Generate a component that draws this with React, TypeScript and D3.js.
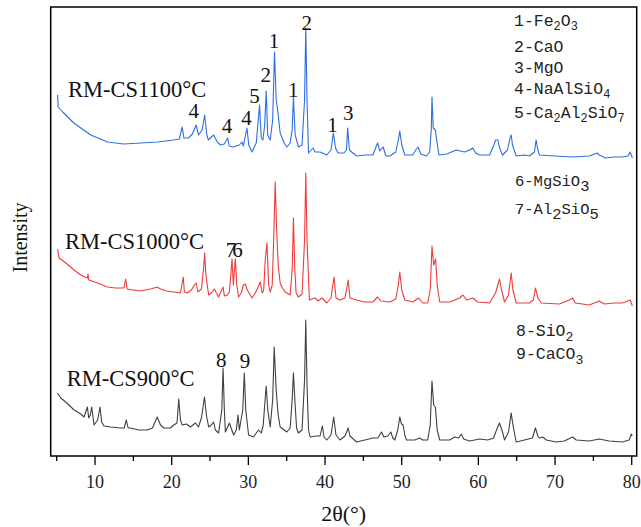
import React from 'react';
import * as d3 from 'd3';

// ---------- data ----------
const xTicks = [10, 20, 30, 40, 50, 60, 70, 80];
const xMinorTicks = [5, 15, 25, 35, 45, 55, 65, 75];

// [2θ, intensity (a.u., stacked as plotted)]
const rm1100: [number, number][] = [
  [5.11, 360], [5.2, 348], [5.8, 343], [7.23, 332], [9.44, 320], [11.65, 313], [13.73, 311],
  [15.94, 312], [18.15, 313], [20.23, 315], [21.0, 316], [21.37, 328], [21.6, 317], [22.18, 317],
  [22.7, 321], [23.19, 330], [23.5, 320], [23.97, 325], [24.3, 340], [24.59, 320], [24.78, 315],
  [25.47, 320], [25.95, 313], [26.35, 310], [26.87, 311], [27.3, 317], [27.5, 309], [28.04, 308],
  [28.82, 310], [29.17, 313], [29.34, 309], [29.82, 327], [30.05, 310], [30.47, 303], [31.03, 312],
  [31.46, 350], [31.68, 317], [31.9, 315], [32.13, 330], [32.33, 364], [32.52, 320], [32.85, 315],
  [33.17, 335], [33.41, 403], [33.63, 355], [33.82, 345], [34.15, 322], [34.67, 312], [35.02, 308],
  [35.45, 312], [35.71, 325], [35.88, 358], [36.1, 320], [36.53, 308], [37.0, 310], [37.33, 355],
  [37.49, 427], [37.65, 355], [37.85, 302], [38.44, 307], [38.7, 303], [39.35, 303], [40.22, 300],
  [40.78, 305], [41.08, 322], [41.37, 307], [41.69, 302], [42.47, 302], [42.8, 305], [42.95, 327],
  [43.18, 305], [43.47, 303], [44.12, 299], [45.2, 300], [46.24, 300], [46.85, 312], [47.15, 304],
  [47.58, 308], [47.93, 299], [48.45, 299], [49.23, 303], [49.56, 315], [49.75, 324], [50.01, 310],
  [50.4, 300], [51.44, 300], [51.83, 305], [52.13, 308], [52.48, 301], [53.22, 299], [53.65, 303],
  [53.85, 325], [53.95, 358], [54.11, 327], [54.39, 325], [54.56, 315], [54.86, 300], [55.86, 301],
  [57.13, 305], [58.2, 303], [58.86, 305], [59.28, 307], [59.64, 302], [60.16, 300], [61.46, 300],
  [61.98, 309], [62.24, 315], [62.54, 315], [62.76, 307], [63.15, 300], [63.8, 305], [64.12, 317],
  [64.28, 320], [64.45, 310], [64.93, 299], [66.0, 300], [66.66, 299], [67.31, 303], [67.53, 315],
  [67.76, 305], [67.96, 300], [69.91, 299], [72.29, 298], [74.46, 299], [75.5, 302], [75.76, 300],
  [76.63, 297], [77.7, 298], [78.75, 298], [79.53, 299], [79.79, 303], [80.09, 297],
];

const rm1000: [number, number][] = [
  [5.11, 206], [5.32, 197], [6.19, 192], [7.27, 185], [8.14, 180], [9.01, 177], [9.09, 181],
  [9.18, 175], [10.35, 172], [11.61, 168], [12.69, 167], [13.77, 167], [13.99, 176], [14.19, 166],
  [15.03, 165], [15.94, 164], [17.24, 166], [18.11, 168], [18.54, 166], [19.32, 164], [20.27, 163],
  [21.14, 162], [21.5, 178], [21.66, 163], [22.02, 162], [22.57, 165], [22.96, 170], [23.19, 172],
  [23.42, 163], [23.88, 166], [24.14, 185], [24.3, 202], [24.46, 180], [24.82, 160], [25.18, 162],
  [25.57, 166], [25.83, 162], [26.12, 158], [26.7, 168], [26.87, 159], [27.26, 160], [27.52, 163],
  [27.71, 180], [27.87, 196], [28.04, 170], [28.3, 196], [28.49, 170], [28.73, 158], [29.08, 162],
  [29.34, 170], [29.6, 171], [29.86, 165], [30.47, 157], [30.9, 162], [31.22, 167], [31.55, 173],
  [31.81, 162], [32.0, 165], [32.2, 195], [32.42, 212], [32.65, 170], [32.85, 163], [33.11, 170],
  [33.3, 215], [33.5, 273], [33.69, 225], [33.89, 190], [34.15, 172], [34.37, 168], [34.8, 163],
  [35.45, 160], [35.71, 185], [35.88, 237], [36.06, 185], [36.23, 162], [36.53, 158], [37.0, 161],
  [37.33, 215], [37.49, 282], [37.65, 215], [37.96, 155], [38.7, 157], [39.09, 154], [39.61, 157],
  [40.22, 152], [40.78, 157], [41.17, 178], [41.43, 157], [41.95, 155], [42.6, 157], [43.03, 175],
  [43.25, 157], [44.12, 155], [45.2, 153], [46.24, 153], [46.85, 158], [47.28, 154], [48.45, 153],
  [49.23, 156], [49.56, 170], [49.75, 183], [50.01, 165], [50.4, 155], [51.44, 153], [52.22, 157],
  [52.74, 152], [53.39, 152], [53.72, 165], [53.95, 209], [54.17, 190], [54.43, 196], [54.63, 170],
  [54.96, 153], [56.26, 153], [57.56, 157], [57.98, 160], [58.47, 155], [59.28, 157], [59.9, 153],
  [61.46, 152], [62.24, 162], [62.76, 176], [63.02, 165], [63.41, 153], [63.93, 160], [64.28, 182],
  [64.51, 165], [64.93, 152], [66.66, 152], [67.18, 155], [67.44, 167], [67.76, 157], [68.22, 152],
  [70.56, 151], [71.86, 155], [72.29, 157], [72.64, 152], [74.46, 150], [75.76, 154], [76.41, 151],
  [77.7, 152], [78.79, 152], [79.79, 155], [80.09, 149],
];

const rm900: [number, number][] = [
  [5.11, 62], [5.54, 57], [6.32, 52], [7.27, 45], [8.14, 41], [8.57, 38], [8.79, 43], [9.01, 48],
  [9.18, 37], [9.38, 40], [9.57, 48], [9.87, 30], [10.35, 35], [10.65, 48], [10.87, 33], [11.17, 29],
  [12.04, 28], [13.34, 27], [13.8, 27], [14.08, 35], [14.32, 27], [14.64, 27], [15.68, 25],
  [16.81, 25], [17.5, 27], [18.11, 38], [18.54, 30], [18.97, 27], [19.84, 27], [20.27, 30],
  [20.69, 32], [20.92, 56], [21.14, 35], [21.37, 30], [21.92, 31], [22.44, 28], [23.1, 32],
  [23.49, 28], [23.88, 37], [24.28, 58], [24.53, 40], [24.82, 28], [25.18, 30], [25.47, 33],
  [25.7, 25], [26.12, 22], [26.54, 45], [26.7, 87], [26.87, 45], [27.0, 23], [27.52, 32], [28.08, 20],
  [28.43, 25], [28.65, 40], [28.82, 25], [29.27, 45], [29.47, 82], [29.66, 45], [30.03, 20],
  [30.68, 18], [31.03, 22], [31.33, 25], [31.68, 22], [31.94, 30], [32.13, 50], [32.33, 69],
  [32.53, 45], [32.85, 28], [33.17, 55], [33.37, 108], [33.63, 65], [33.89, 40], [34.15, 28],
  [35.02, 23], [35.45, 27], [35.71, 55], [35.88, 82], [36.1, 50], [36.29, 27], [36.53, 22], [37.0, 25],
  [37.33, 75], [37.49, 135], [37.65, 70], [37.85, 25], [38.05, 18], [38.83, 19], [39.35, 19],
  [39.65, 29], [39.87, 18], [40.22, 15], [40.78, 20], [41.13, 38], [41.43, 20], [41.95, 15],
  [42.6, 19], [43.03, 27], [43.25, 19], [44.12, 13], [45.2, 15], [46.24, 17], [46.89, 17],
  [47.37, 23], [47.67, 18], [48.19, 19], [48.58, 23], [48.84, 17], [49.1, 15], [49.49, 25],
  [49.75, 38], [49.97, 31], [50.18, 30], [50.4, 20], [50.62, 15], [51.7, 15], [52.35, 17],
  [52.74, 15], [53.39, 15], [53.72, 30], [53.95, 74], [54.17, 50], [54.39, 48], [54.63, 25],
  [54.96, 15], [56.26, 15], [56.91, 18], [57.43, 17], [57.78, 21], [58.08, 16], [58.86, 14],
  [60.16, 16], [61.2, 15], [61.98, 17], [62.37, 25], [62.76, 32], [63.15, 23], [63.41, 15],
  [63.93, 23], [64.28, 42], [64.51, 30], [64.93, 13], [66.0, 15], [67.05, 17], [67.44, 27],
  [67.76, 19], [67.96, 17], [68.39, 18], [68.87, 15], [70.13, 13], [71.2, 14], [72.29, 18],
  [72.77, 15], [74.46, 14], [75.76, 16], [77.06, 14], [78.79, 13], [79.66, 15], [79.96, 21],
  [80.05, 19],
];

const seriesColors = ['#2D6FE0', '#EE3B3B', '#404040'];

// peak markers: [label, 2θ (centre), intensity (baseline)]
const peaks1100: [string, number, number][] = [
  ['4', 22.87, 337], ['4', 27.22, 322], ['4', 29.76, 330], ['5', 30.8, 352], ['2', 32.28, 373],
  ['1', 33.35, 407], ['1', 35.86, 358], ['2', 37.61, 425], ['1', 40.98, 323], ['3', 43.04, 335],
];
const peaks1000: [string, number, number][] = [['7', 27.74, 198], ['6', 28.59, 198]];
const peaks900: [string, number, number][] = [['8', 26.47, 88], ['9', 29.56, 87]];

// sample names: [text, 2θ (left), intensity (baseline)]
const sampleNames: [string, number, number][] = [
  ['RM-CS1100°C', 6.48, 358],
  ['RM-CS1000°C', 6.09, 206],
  ['RM-CS900°C', 6.31, 69],
];

// phase legend (“_” marks a subscript digit)
const legendGroupA = ['1-Fe_2O_3', '2-CaO', '3-MgO', '4-NaAlSiO_4', '5-Ca_2Al_2SiO_7'];
const legendGroupB = ['6-MgSiO_3', '7-Al_2SiO_5'];
const legendGroupC = ['8-SiO_2', '9-CaCO_3'];

// ---------- layout ----------
const W = 641;
const H = 527;
const left = 50.7;
const right = 636.7;
const top = 7;
const bottom = 456;

function parseFormula(s: string) {
  const parts: { t: string; sub: boolean }[] = [];
  let i = 0;
  while (i < s.length) {
    if (s[i] === '_') {
      parts.push({ t: s[i + 1], sub: true });
      i += 2;
    } else {
      let j = i;
      while (j < s.length && s[j] !== '_') j++;
      parts.push({ t: s.slice(i, j), sub: false });
      i = j;
    }
  }
  return parts;
}

function Formula({ text, x, y, size, subScale, subDy }: { text: string; x: number; y: number; size: number; subScale: number; subDy: number }) {
  const parts = parseFormula(text);
  let prevSub = false;
  return (
    <text x={x} y={y} fontFamily="'Liberation Mono', 'DejaVu Sans Mono', monospace" fontSize={size} fill="#222">
      {parts.map((p, k) => {
        let dy = 0;
        if (p.sub && !prevSub) dy = subDy;
        if (!p.sub && prevSub) dy = -subDy;
        prevSub = p.sub;
        return (
          <tspan key={k} dy={dy} fontSize={p.sub ? size * subScale : size}>
            {p.t}
          </tspan>
        );
      })}
    </text>
  );
}

export default function App() {
  const x = d3.scaleLinear().domain([4.22, 80.65]).range([left, right]);
  const y = d3.scaleLinear().domain([0, 448]).range([455, 7]);
  const line = d3
    .line<[number, number]>()
    .x((d) => x(d[0]))
    .y((d) => y(d[1]))
    .curve(d3.curveLinear);

  const series = [rm1100, rm1000, rm900];
  const peakSets = [peaks1100, peaks1000, peaks900];

  return (
    <svg width={W} height={H} style={{ position: 'absolute', left: 0, top: 0, background: '#fff' }}>
      <rect x={0} y={0} width={W} height={H} fill="#fff" />
      {series.map((s, i) => (
        <path key={i} d={line(s) || ''} fill="none" stroke={seriesColors[i]} strokeWidth={1.1} strokeLinejoin="round" />
      ))}

      {/* frame */}
      <rect x={left} y={top} width={right - left} height={bottom - top} fill="none" stroke="#000" strokeWidth={1.5} />

      {/* x ticks */}
      {xTicks.map((t) => (
        <g key={'M' + t}>
          <line x1={x(t)} x2={x(t)} y1={bottom} y2={bottom + 9} stroke="#000" strokeWidth={1.3} />
          <text x={x(t)} y={488} textAnchor="middle" fontFamily="'Liberation Serif', 'Times New Roman', serif" fontSize={18} fill="#222">
            {t}
          </text>
        </g>
      ))}
      {xMinorTicks.map((t) => (
        <line key={'m' + t} x1={x(t)} x2={x(t)} y1={bottom} y2={bottom + 5} stroke="#000" strokeWidth={1.3} />
      ))}

      {/* axis titles */}
      <text x={(left + right) / 2} y={521} textAnchor="middle" fontFamily="'Liberation Serif', 'Times New Roman', serif" fontSize={22} fill="#111">
        2θ(°)
      </text>
      <text
        transform={`translate(27, ${(top + bottom) / 2 + 6}) rotate(-90)`}
        textAnchor="middle"
        fontFamily="'Liberation Serif', 'Times New Roman', serif"
        fontSize={20}
        fill="#111"
      >
        Intensity
      </text>

      {/* sample names */}
      {sampleNames.map(([t, a, b]) => (
        <text key={t} x={x(a)} y={y(b)} fontFamily="'Liberation Serif', 'Times New Roman', serif" fontSize={22.5} fill="#111">
          {t}
        </text>
      ))}

      {/* peak numbers */}
      {peakSets.map((set, i) =>
        set.map(([t, a, b], k) => (
          <text key={i + '-' + k} x={x(a)} y={y(b)} textAnchor="middle" fontFamily="'Liberation Serif', 'Times New Roman', serif" fontSize={21} fill="#111">
            {t}
          </text>
        ))
      )}

      {/* phase legend */}
      {legendGroupA.map((s, i) => (
        <Formula key={s} text={s} x={514} y={[26, 52, 73, 94, 118][i]} size={16.5} subScale={0.72} subDy={4} />
      ))}
      {legendGroupB.map((s, i) => (
        <Formula key={s} text={s} x={515} y={[186, 214][i]} size={15.5} subScale={1} subDy={5} />
      ))}
      {legendGroupC.map((s, i) => (
        <Formula key={s} text={s} x={516} y={[336, 359][i]} size={16.5} subScale={0.8} subDy={5} />
      ))}
    </svg>
  );
}
